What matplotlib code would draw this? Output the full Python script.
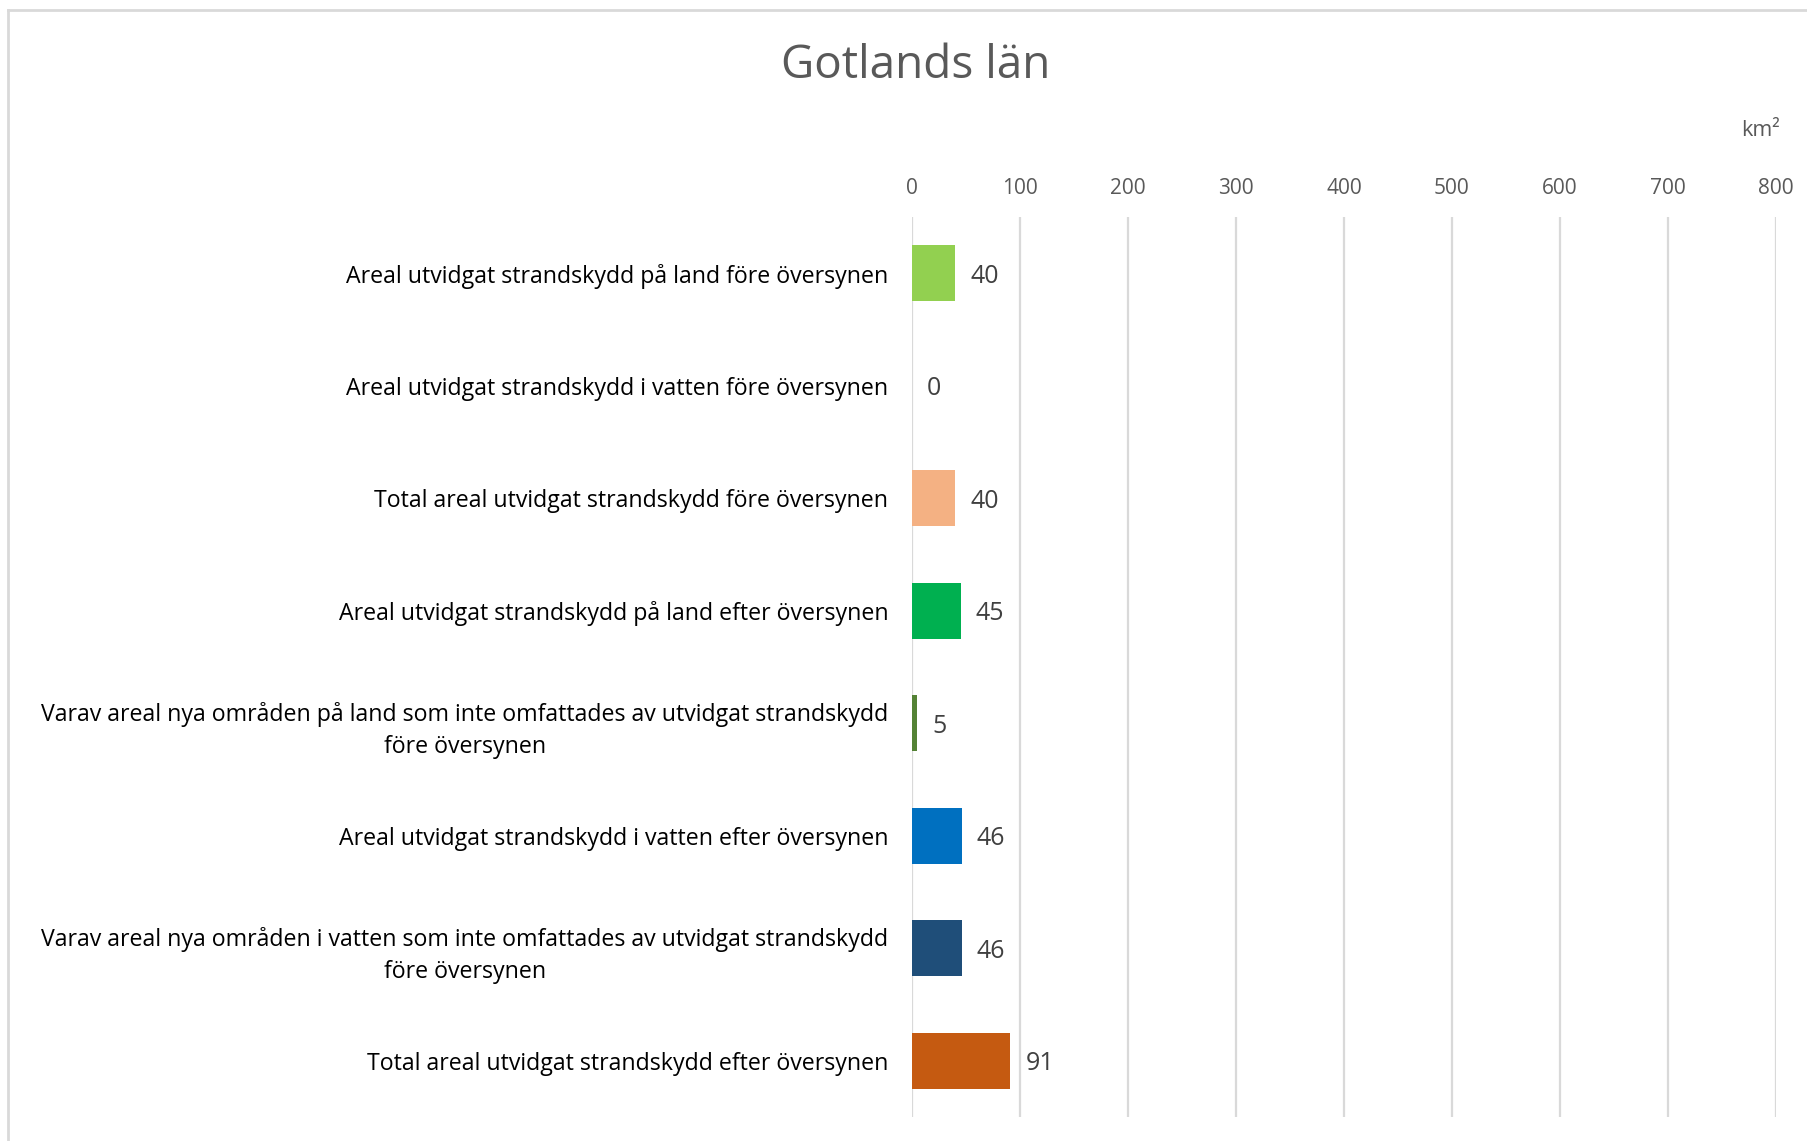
import matplotlib.pyplot as plt
from matplotlib.lines import Line2D

plt.rcParams['font.family'] = ['Open Sans', 'DejaVu Sans']

# 資料
categories = [
    'Areal utvidgat strandskydd på land före översynen',
    'Areal utvidgat strandskydd i vatten före översynen',
    'Total areal utvidgat strandskydd före översynen',
    'Areal utvidgat strandskydd på land efter översynen',
    'Varav areal nya områden på land som inte omfattades av utvidgat strandskydd\nföre översynen',
    'Areal utvidgat strandskydd i vatten efter översynen',
    'Varav areal nya områden i vatten som inte omfattades av utvidgat strandskydd\nföre översynen',
    'Total areal utvidgat strandskydd efter översynen',
]
values = [40, 0, 40, 45, 5, 46, 46, 91]
colors = ['#92D050', '#92D050', '#F4B183', '#00B050', '#548235', '#0070C0', '#1F4E79', '#C55A11']
x_ticks = [0, 100, 200, 300, 400, 500, 600, 700, 800]

fig = plt.figure(figsize=(18.07, 11.41), dpi=100)
ax = fig.add_axes([0.5047, 0.021, 0.4781, 0.7889])

y = list(range(len(categories)))
ax.barh(y, values, height=0.5, color=colors, zorder=3)
ax.set_ylim(len(categories) - 0.5, -0.5)
ax.set_xlim(0, 800)

# 數值標籤
for yi, v in zip(y, values):
    ax.text(v + 14, yi, f'{v}', va='center_baseline', ha='left', fontsize=18, color='#404040')

ax.set_yticks(y)
ax.set_yticklabels(categories, fontsize=16.7, color='#000000',
                   multialignment='center', linespacing=1.45)
ax.tick_params(axis='y', length=0, pad=17)

ax.xaxis.tick_top()
ax.set_xticks(x_ticks)
ax.set_xticklabels([str(t) for t in x_ticks], fontsize=15, color='#595959')
ax.tick_params(axis='x', length=0, pad=13)

ax.grid(axis='x', color='#D9D9D9', linewidth=1.6, zorder=0)
for s in ax.spines.values():
    s.set_visible(False)

fig.text(0.507, 0.942, 'Gotlands län', ha='center', va='center', fontsize=33, color='#595959')
fig.text(0.974, 0.886, 'km²', ha='center', va='center', fontsize=15.5, color='#595959')

# 外框
x0, y0 = 0.0044, 0.9912
fig.add_artist(Line2D([x0, 1.0], [y0, y0], transform=fig.transFigure, color='#D9D9D9', linewidth=2))
fig.add_artist(Line2D([x0, x0], [0.0, y0], transform=fig.transFigure, color='#D9D9D9', linewidth=2))

fig.savefig('out.png', dpi=100)
